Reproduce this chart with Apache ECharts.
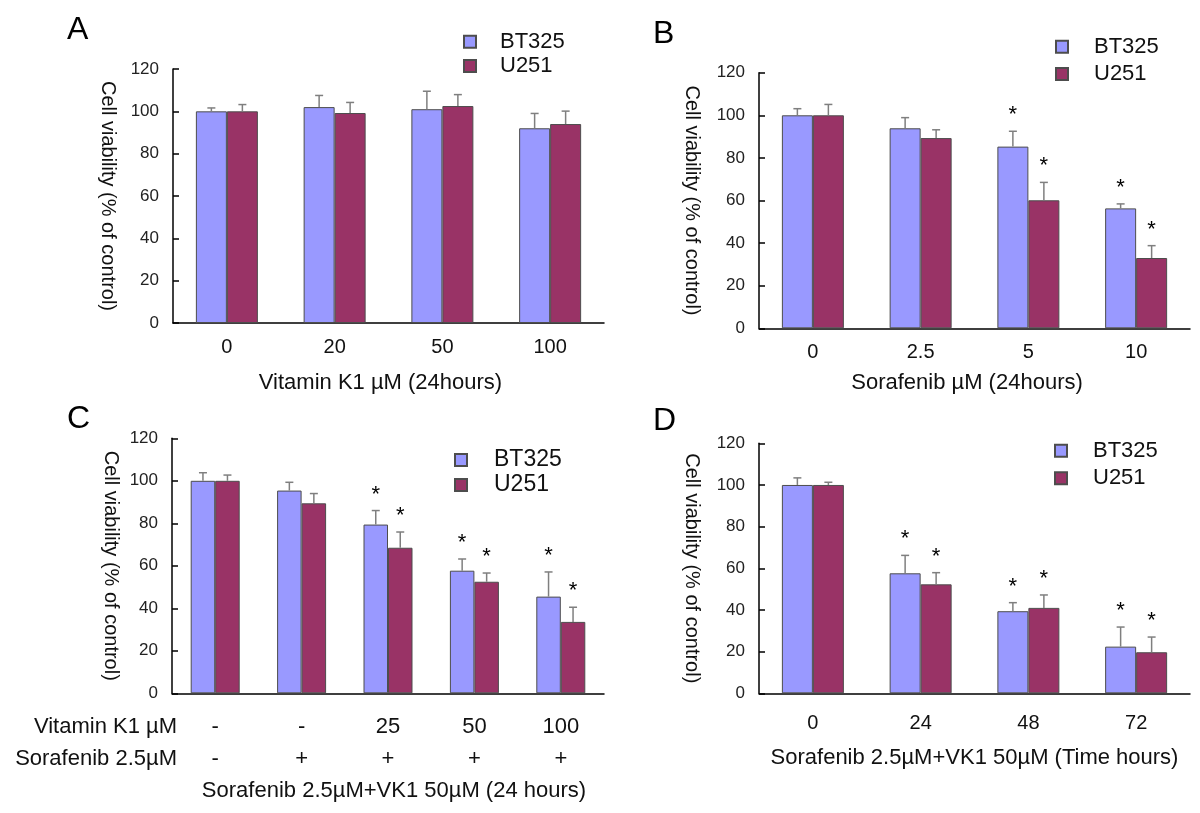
<!DOCTYPE html>
<html>
<head>
<meta charset="utf-8">
<script src="https://cdn.jsdelivr.net/npm/echarts@6/dist/echarts.min.js"></script>
<style>
html, body { margin: 0; padding: 0; background: #fff; }
#chart { width: 1200px; height: 813px; }
</style>
</head>
<body>
<div id="chart"></div>
<script>
const FONT = '"Liberation Sans", Arial, sans-serif'
const BT_COLOR = '#9999ff'
const U_COLOR = '#993366'

// A - Vitamin K1 (24 h)
const catsA = ['0', '20', '50', '100']
const btA = [100, 102, 101, 92]
const btErrA = [1.6, 5.5, 8.5, 7]
const uA = [100, 99.2, 102.5, 94]
const uErrA = [3.2, 5, 5.4, 6.1]
const sigA = [false, false, false, false]

// B - Sorafenib (24 h)
const catsB = ['0', '2.5', '5', '10']
const btB = [100, 93.9, 85.3, 56.3]
const btErrB = [3.1, 5, 7.2, 2.1]
const uB = [100, 89.3, 60.1, 33]
const uErrB = [5.1, 3.9, 8.4, 5.8]
const sigB = [false, false, true, true]

// C - combination, two label rows
const vk1C = ['-', '-', '25', '50', '100']
const sorC = ['-', '+', '+', '+', '+']
const btC = [100, 95.4, 79.4, 57.7, 45.5]
const btErrC = [3.8, 3.9, 6.6, 5.5, 11.6]
const uC = [100, 89.4, 68.5, 52.5, 33.6]
const uErrC = [2.7, 4.6, 7.4, 4.1, 6.9]
const sigC = [false, false, true, true, true]

// D - combination over time
const catsD = ['0', '24', '48', '72']
const btD = [100, 57.6, 39.4, 22.4]
const btErrD = [3.4, 8.6, 4.1, 9.4]
const uD = [100, 52.3, 41, 19.7]
const uErrD = [1.3, 5.6, 6.2, 7.3]
const sigD = [false, true, true, true]

const yTicks = [0, 20, 40, 60, 80, 100, 120]

const panels = [
    { letter: 'A', lx: 67, ly: 14, cats: catsA, bt: btA, btErr: btErrA, u: uA, uErr: uErrA, sig: sigA,
      grid: { left: 173, top: 69, width: 431, height: 254 }, barW: 31,
      xName: 'Vitamin K1 µM (24hours)', xNameGap: 49, xNamePad: [0, 16, 0, 0], labMargin: 14, labFont: 20,
      yNameGap: 55,
      leg: { left: 463, top: 30.7, gap: 2.3, font: 22, pad: 19 } },
    { letter: 'B', lx: 653, ly: 18, cats: catsB, bt: btB, btErr: btErrB, u: uB, uErr: uErrB, sig: sigB,
      grid: { left: 759, top: 72.7, width: 431, height: 255.6 }, barW: 31,
      xName: 'Sorafenib µM (24hours)', xNameGap: 44, xNamePad: [0, 15, 0, 0], labMargin: 14, labFont: 20,
      yNameGap: 57,
      leg: { left: 1055, top: 35.7, gap: 5.3, font: 22, pad: 21 } },
    { letter: 'C', lx: 67, ly: 403, cats: vk1C.map((v, k) => v + '\n' + sorC[k]), bt: btC, btErr: btErrC, u: uC, uErr: uErrC, sig: sigC,
      grid: { left: 172, top: 438.3, width: 432, height: 255 }, barW: 24.5,
      xName: 'Sorafenib 2.5µM+VK1 50µM (24 hours)', xNameGap: 87, xNamePad: [0, 0, 0, 12], labMargin: 17, labFont: 22, labLine: 32.6,
      yNameGap: 51,
      leg: { left: 454, top: 448.5, gap: 2, font: 23, pad: 22 } },
    { letter: 'D', lx: 653, ly: 405, cats: catsD, bt: btD, btErr: btErrD, u: uD, uErr: uErrD, sig: sigD,
      grid: { left: 759, top: 443.3, width: 431, height: 250 }, barW: 31,
      xName: 'Sorafenib 2.5µM+VK1 50µM (Time hours)', xNameGap: 54, xNamePad: [0, 0, 0, 0], labMargin: 20, labFont: 20,
      yNameGap: 57,
      leg: { left: 1054, top: 439.7, gap: 5.6, font: 22, pad: 21 } }
]

// upper error bar with cap, plus the significance star
const errorSeries = (i, vals, errs, sig, side, barW) => ({
    type: 'custom',
    xAxisIndex: i,
    yAxisIndex: i,
    z: 5,
    silent: true,
    encode: { x: 0, y: 1 },
    data: vals.map((v, k) => [k, v, errs[k], sig[k] ? 1 : 0]),
    renderItem: (params, api) => {
        const base = api.coord([api.value(0), api.value(1)])
        const top = api.coord([api.value(0), api.value(1) + api.value(2)])
        const x = base[0] + side * barW / 2
        const stroke = { stroke: '#7f7f7f', lineWidth: 1.5 }
        const children = [
            { type: 'line', shape: { x1: x, y1: base[1], x2: x, y2: top[1] }, style: stroke },
            { type: 'line', shape: { x1: x - 4, y1: top[1], x2: x + 4, y2: top[1] }, style: stroke }
        ]
        if (api.value(3)) {
            children.push({
                type: 'text', x: x, y: top[1] - 5,
                style: { text: '*', fill: '#000', fontSize: 22, fontFamily: FONT, align: 'center', verticalAlign: 'bottom' }
            })
        }
        return { type: 'group', children }
    }
})

const chart = echarts.init(document.getElementById('chart'))

const option = {
    backgroundColor: '#fff',
    animation: false,
    grid: panels.map(p => p.grid),
    legend: panels.map(p => ({
        data: ['BT325', 'U251'],
        orient: 'vertical',
        left: p.leg.left,
        top: p.leg.top,
        padding: 0,
        icon: 'rect',
        itemWidth: 12,
        itemHeight: 12,
        itemGap: p.leg.gap,
        selectedMode: false,
        textStyle: { fontSize: p.leg.font, lineHeight: p.leg.font, fontFamily: FONT, color: '#111', padding: [0, 0, 0, p.leg.pad] }
    })),
    xAxis: panels.map((p, i) => ({
        type: 'category',
        gridIndex: i,
        data: p.cats,
        name: p.xName,
        nameLocation: 'middle',
        nameGap: p.xNameGap,
        nameTextStyle: { fontSize: 22, fontFamily: FONT, color: '#111', padding: p.xNamePad },
        axisLine: { lineStyle: { color: '#000', width: 1.5 } },
        axisTick: { inside: true, length: 6, interval: 0, lineStyle: { color: '#000', width: 1.5 } },
        axisLabel: { interval: 0, margin: p.labMargin, fontSize: p.labFont, fontFamily: FONT, color: '#111', lineHeight: p.labLine || p.labFont },
        splitLine: { show: false }
    })),
    yAxis: panels.map((p, i) => ({
        type: 'value',
        gridIndex: i,
        min: yTicks[0],
        max: yTicks[yTicks.length - 1],
        interval: yTicks[1] - yTicks[0],
        name: 'Cell viability (% of control)',
        nameLocation: 'middle',
        nameRotate: -90,
        nameGap: p.yNameGap,
        nameTextStyle: { fontSize: 20, fontFamily: FONT, color: '#111' },
        axisLine: { show: true, lineStyle: { color: '#000', width: 1.5 } },
        axisTick: { show: true, inside: true, length: 6, lineStyle: { color: '#000', width: 1.5 } },
        axisLabel: { margin: 14, fontSize: 17, fontFamily: FONT, color: '#222' },
        splitLine: { show: false }
    })),
    series: panels.flatMap((p, i) => [
        {
            name: 'BT325', type: 'bar', xAxisIndex: i, yAxisIndex: i,
            data: p.bt, barWidth: p.barW, barGap: '0%',
            itemStyle: { color: BT_COLOR, borderColor: '#4d4d4d', borderWidth: 1 }
        },
        {
            name: 'U251', type: 'bar', xAxisIndex: i, yAxisIndex: i,
            data: p.u, barWidth: p.barW, barGap: '0%',
            itemStyle: { color: U_COLOR, borderColor: '#4d4d4d', borderWidth: 1 }
        },
        errorSeries(i, p.bt, p.btErr, p.sig, -1, p.barW),
        errorSeries(i, p.u, p.uErr, p.sig, 1, p.barW)
    ]),
    graphic: [
        ...panels.map(p => ({
            type: 'text', left: p.lx, top: p.ly,
            style: { text: p.letter, fontSize: 32, fontFamily: FONT, fill: '#000' }
        })),
        { type: 'text', x: 177, y: 726.7,
          style: { text: 'Vitamin K1 µM', fontSize: 22, fontFamily: FONT, fill: '#111', align: 'right', verticalAlign: 'middle' } },
        { type: 'text', x: 177, y: 759.3,
          style: { text: 'Sorafenib 2.5µM', fontSize: 22, fontFamily: FONT, fill: '#111', align: 'right', verticalAlign: 'middle' } }
    ]
}

chart.setOption(option)
</script>
</body>
</html>
